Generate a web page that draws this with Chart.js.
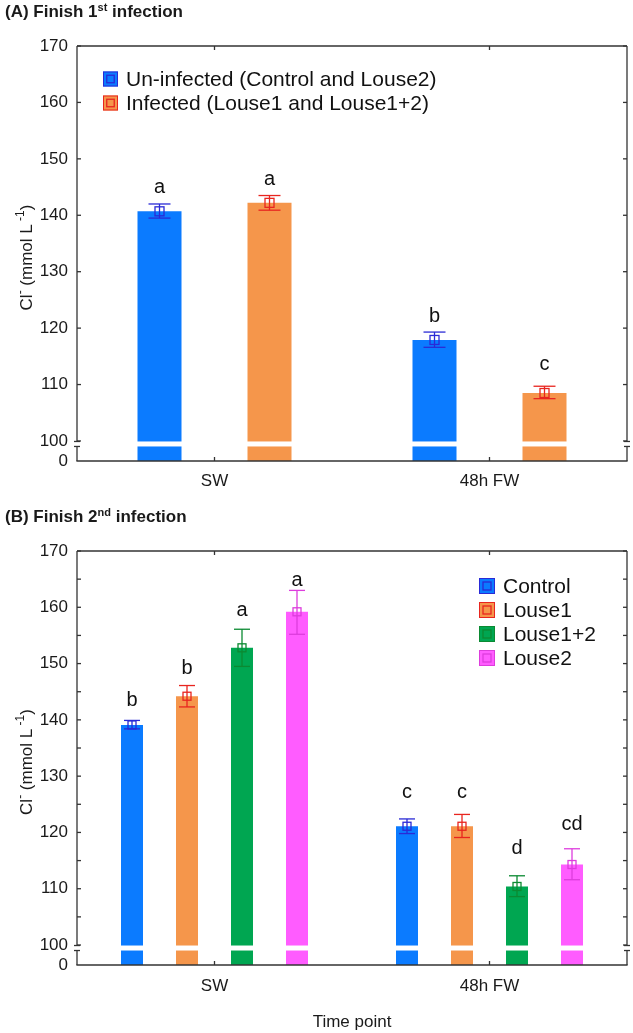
<!DOCTYPE html>
<html>
<head>
<meta charset="utf-8">
<script src="https://cdn.jsdelivr.net/npm/chart.js@4.4.1/dist/chart.umd.min.js"></script>
<style>
body{margin:0;background:#fff;width:633px;height:1033px;overflow:hidden;font-family:"Liberation Sans",Arial,sans-serif}
.panel{position:absolute;left:0;width:633px}
.ttl{position:absolute;left:5px;top:1px;font-weight:bold;font-size:17px;line-height:22px;color:#1a1a1a}
.ttl sup{font-size:11px;line-height:0;vertical-align:6px}
</style>
</head>
<body>
<div class="panel" style="top:0;height:505px">
    <canvas id="chartA" width="633" height="505"></canvas>
    <div class="ttl">(A) Finish 1<sup>st</sup> infection</div>
</div>
<div class="panel" style="top:505px;height:528px">
    <canvas id="chartB" width="633" height="528"></canvas>
    <div class="ttl">(B) Finish 2<sup>nd</sup> infection</div>
</div>
<script>
// categories
const timePoints = ['SW', '48h FW']

// y axis (scale is broken between 0 and 100)
const yBreak = 100
const yMin = 96.45
const yMax = 170
const yTicksA = [100, 110, 120, 130, 140, 150, 160, 170]
const yLabelsA = ['100', '110', '120', '130', '140', '150', '160', '170']
const yTicksB = [100, 105, 110, 115, 120, 125, 130, 135, 140, 145, 150, 155, 160, 165, 170]
const yLabelsB = ['100', '', '110', '', '120', '', '130', '', '140', '', '150', '', '160', '', '170']
const zeroLabel = '0'

// panel A: finish 1st infection
const uninfMean = [140.7, 117.9]
const uninfLow = [139.5, 116.6]
const uninfHigh = [142.0, 119.3]
const uninfLetters = ['a', 'b']
const uninfLetterY = [144.0, 121.0]

const infMean = [142.2, 108.5]
const infLow = [140.9, 107.5]
const infHigh = [143.5, 109.7]
const infLetters = ['a', 'c']
const infLetterY = [145.4, 112.5]

// panel B: finish 2nd infection
const controlMean = [139.1, 121.1]
const controlLow = [138.4, 119.8]
const controlHigh = [139.9, 122.4]
const controlLetters = ['b', 'c']
const controlLetterY = [142.4, 126.2]

const louse1Mean = [144.2, 121.1]
const louse1Low = [142.3, 119.1]
const louse1High = [146.1, 123.2]
const louse1Letters = ['b', 'c']
const louse1LetterY = [148.1, 126.2]

const louse12Mean = [152.8, 110.4]
const louse12Low = [149.5, 108.6]
const louse12High = [156.1, 112.3]
const louse12Letters = ['a', 'd']
const louse12LetterY = [158.4, 116.1]

const louse2Mean = [159.2, 114.3]
const louse2Low = [155.2, 111.6]
const louse2High = [163.0, 117.1]
const louse2Letters = ['a', 'cd']
const louse2LetterY = [163.8, 120.4]

const FONT = '"Liberation Sans", Arial, sans-serif'
Chart.defaults.font.family = FONT
Chart.defaults.color = '#1a1a1a'

function line(ctx, x1, y1, x2, y2){
    ctx.beginPath()
    ctx.moveTo(x1, y1)
    ctx.lineTo(x2, y2)
    ctx.stroke()
}

// error bars, markers, letters, white break band
const decor = {
    id: 'decor',
    afterDatasetsDraw(chart, args, opts){
        const ctx = chart.ctx
        const a = chart.chartArea
        const y = chart.scales.y
        const yb = y.getPixelForValue(yBreak)
        ctx.save()
        ctx.fillStyle = '#fff'
        ctx.fillRect(a.left + 1, yb + 0.5, a.right - a.left - 2, 5)

        chart.data.datasets.forEach((ds, i) => {
            const meta = chart.getDatasetMeta(i)
            meta.data.forEach((bar, j) => {
                const cx = bar.x
                const yl = y.getPixelForValue(ds.errLow[j])
                const yh = y.getPixelForValue(ds.errHigh[j])
                const ym = y.getPixelForValue(ds.data[j])
                ctx.strokeStyle = ds.errColor
                ctx.lineWidth = 1.3
                line(ctx, cx, yl, cx, yh)
                line(ctx, cx - opts.cap / 2, yl, cx + opts.cap / 2, yl)
                line(ctx, cx - opts.cap / 2, yh, cx + opts.cap / 2, yh)
                const s = opts.mark
                ctx.strokeRect(cx - s / 2, ym - s / 2, s, s)

                ctx.fillStyle = '#111'
                ctx.font = '20px ' + FONT
                ctx.textAlign = 'center'
                ctx.textBaseline = 'alphabetic'
                ctx.fillText(ds.letters[j], cx, y.getPixelForValue(ds.letterY[j]))
            })
        })
        ctx.restore()
    },
    afterDraw(chart, args, opts){
        const ctx = chart.ctx
        const a = chart.chartArea
        const y = chart.scales.y
        const x = chart.scales.x
        const yb = y.getPixelForValue(yBreak)
        ctx.save()
        ctx.strokeStyle = '#333'
        ctx.lineWidth = 1.3
        // frame with axis break
        line(ctx, a.left, a.top, a.right, a.top)
        line(ctx, a.left - 0.6, a.bottom, a.right + 0.6, a.bottom)
        for (const side of [a.left, a.right]){
            line(ctx, side, a.top, side, yb + 0.5)
            line(ctx, side, yb + 5.5, side, a.bottom)
            line(ctx, side - 3, yb + 0.5, side + 3, yb + 0.5)
            line(ctx, side - 3, yb + 5.5, side + 3, yb + 5.5)
        }
        // inward ticks
        for (const v of opts.ticks){
            const py = y.getPixelForValue(v)
            line(ctx, a.left, py, a.left + 4, py)
            line(ctx, a.right - 4, py, a.right, py)
        }
        timePoints.forEach((t, j) => {
            const px = x.getPixelForValue(j)
            line(ctx, px, a.bottom, px, a.bottom - 4)
            line(ctx, px, a.top, px, a.top + 4)
        })

        // legend
        const lg = opts.legend
        chart.data.datasets.forEach((ds, i) => {
            const cy = lg.y + i * lg.dy
            const b = lg.box
            ctx.fillStyle = ds.backgroundColor
            ctx.fillRect(lg.x, cy - b / 2, b, b)
            ctx.strokeStyle = ds.errColor
            ctx.lineWidth = 1
            ctx.strokeRect(lg.x + 0.5, cy - b / 2 + 0.5, b - 1, b - 1)
            ctx.lineWidth = 1.3
            const m = b * 0.5
            ctx.strokeRect(lg.x + (b - m) / 2, cy - m / 2, m, m)
            ctx.fillStyle = '#111'
            ctx.font = lg.font + 'px ' + FONT
            ctx.textAlign = 'left'
            ctx.textBaseline = 'middle'
            ctx.fillText(ds.label, lg.x + b + 8, cy + 1)
        })

        // y title with superscripts
        const parts = [['Cl', false], ['-', true], [' (mmol L', false], [' -1', true], [')', false]]
        const big = '17px ' + FONT
        const small = '12px ' + FONT
        let total = 0
        for (const p of parts){
            ctx.font = p[1] ? small : big
            total += ctx.measureText(p[0]).width
        }
        ctx.translate(opts.titleX, (a.top + a.bottom) / 2 + 4)
        ctx.rotate(-Math.PI / 2)
        ctx.fillStyle = '#1a1a1a'
        ctx.textAlign = 'left'
        ctx.textBaseline = 'middle'
        let cx = -total / 2
        for (const p of parts){
            ctx.font = p[1] ? small : big
            ctx.fillText(p[0], cx, p[1] ? -6 : 0)
            cx += ctx.measureText(p[0]).width
        }
        ctx.restore()
    }
}

function makeChart(id, datasets, tickVals, tickLabels, xHeight, xPad, showXTitle, legend, cap, mark){
    return new Chart(document.getElementById(id), {
        type: 'bar',
        data: { labels: timePoints, datasets: datasets },
        options: {
            responsive: false,
            animation: false,
            layout: { padding: { top: 46, right: 6, left: 0, bottom: 0 } },
            datasets: { bar: { categoryPercentage: 0.8, barPercentage: 0.4 } },
            scales: {
                x: {
                    grid: { display: false },
                    border: { display: false },
                    ticks: { font: { size: 17 }, padding: xPad, color: '#1a1a1a' },
                    title: { display: showXTitle, text: 'Time point', font: { size: 17 }, color: '#1a1a1a', padding: 0 },
                    afterFit(s){ s.height = xHeight }
                },
                y: {
                    min: yMin,
                    max: yMax,
                    grid: { display: false },
                    border: { display: false },
                    ticks: {
                        autoSkip: false,
                        font: { size: 17 },
                        padding: 1,
                        color: '#1a1a1a',
                        callback: (v, i) => i === 0 ? zeroLabel : tickLabels[i - 1]
                    },
                    afterBuildTicks(s){
                        s.ticks = [{ value: yMin }].concat(tickVals.map(v => ({ value: v })))
                    },
                    afterFit(s){ s.width = 77 }
                }
            },
            plugins: {
                legend: { display: false },
                tooltip: { enabled: false },
                decor: { ticks: tickVals, legend: legend, cap: cap, mark: mark, titleX: 27 }
            }
        },
        plugins: [decor]
    })
}

makeChart('chartA', [
    {
        label: 'Un-infected (Control and Louse2)',
        data: uninfMean, errLow: uninfLow, errHigh: uninfHigh,
        letters: uninfLetters, letterY: uninfLetterY,
        backgroundColor: '#0b7bff', errColor: '#2a2ad6'
    },
    {
        label: 'Infected (Louse1 and Louse1+2)',
        data: infMean, errLow: infLow, errHigh: infHigh,
        letters: infLetters, letterY: infLetterY,
        backgroundColor: '#f5964b', errColor: '#e8251f'
    }
], yTicksA, yLabelsA, 44, 2, false, { x: 103, y: 79, dy: 24, box: 15, font: 21 }, 22, 9)

makeChart('chartB', [
    {
        label: 'Control',
        data: controlMean, errLow: controlLow, errHigh: controlHigh,
        letters: controlLetters, letterY: controlLetterY,
        backgroundColor: '#0b7bff', errColor: '#2a2ad6'
    },
    {
        label: 'Louse1',
        data: louse1Mean, errLow: louse1Low, errHigh: louse1High,
        letters: louse1Letters, letterY: louse1LetterY,
        backgroundColor: '#f5964b', errColor: '#e8251f'
    },
    {
        label: 'Louse1+2',
        data: louse12Mean, errLow: louse12Low, errHigh: louse12High,
        letters: louse12Letters, letterY: louse12LetterY,
        backgroundColor: '#00a651', errColor: '#0b8a32'
    },
    {
        label: 'Louse2',
        data: louse2Mean, errLow: louse2Low, errHigh: louse2High,
        letters: louse2Letters, letterY: louse2LetterY,
        backgroundColor: '#ff5cff', errColor: '#dd3ddd'
    }
], yTicksB, yLabelsB, 68, 3, true, { x: 479, y: 81, dy: 24, box: 16, font: 21 }, 16, 8)
</script>
</body>
</html>
